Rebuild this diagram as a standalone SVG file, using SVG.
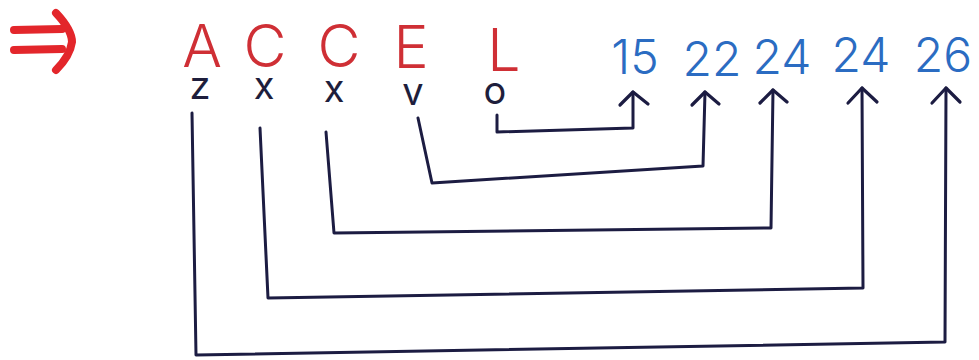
<svg xmlns="http://www.w3.org/2000/svg" width="979" height="360" viewBox="0 0 979 360">
  <style>
    .red { fill: #cf2f35; font-family: Inter, "Liberation Sans", sans-serif; font-weight: 300; font-size: 59px; text-anchor: middle; }
    .low { fill: #1e1e3c; font-family: Inter, "Liberation Sans", sans-serif; font-weight: 400; font-size: 38px; text-anchor: middle; }
    .num { fill: #2b6cc2; font-family: Inter, "Liberation Sans", sans-serif; font-weight: 300; font-size: 48px; text-anchor: middle; }
    .wire { fill: none; stroke: #1c1c42; stroke-width: 3; stroke-linejoin: round; stroke-linecap: round; }
    .head { fill: none; stroke: #1c1c42; stroke-width: 3.2; stroke-linejoin: round; stroke-linecap: round; }
    .imp { fill: none; stroke: #e3262b; stroke-width: 8; stroke-linecap: round; stroke-linejoin: round; }
  </style>
  <rect width="979" height="360" fill="#ffffff"/>
  <g id="implies">
    <path class="imp" d="M14 30 L62 29 M14 50 L62 49"/>
    <path class="imp" d="M56 13 Q72 30 72 42 Q70 56 56 70"/>
  </g>
  <g id="word">
    <text class="red" x="202" y="67">A</text>
    <text class="red" x="265" y="67">C</text>
    <text class="red" x="339" y="67">C</text>
    <text class="red" x="411" y="68">E</text>
    <text class="red" x="504" y="71">L</text>
  </g>
  <g id="letters">
    <text class="low" x="200" y="99">z</text>
    <text class="low" x="264" y="99">x</text>
    <text class="low" x="334" y="102">x</text>
    <text class="low" x="413" y="105">v</text>
    <text class="low" x="495" y="104">o</text>
  </g>
  <g id="numbers">
    <text class="num" x="635" y="74">15</text>
    <text class="num" x="712" y="76">22</text>
    <text class="num" x="782" y="74">24</text>
    <text class="num" x="861" y="72">24</text>
    <text class="num" x="943" y="72">26</text>
  </g>
  <g id="connectors">
    <path class="wire" d="M497 115 L497 132 L633 128 L633 92"/>
    <path class="wire" d="M418 118 L432 183 L703 166 L705 92"/>
    <path class="wire" d="M326 132 L334 233 L771 228 L773 90"/>
    <path class="wire" d="M260 128 L268 298 L863 288 L862 88"/>
    <path class="wire" d="M192 113 L196 355 L945 342 L946 88"/>
    <path class="head" d="M620 105 L633 92 L648 104"/>
    <path class="head" d="M692 105 L705 92 L719 104"/>
    <path class="head" d="M760 103 L773 90 L787 102"/>
    <path class="head" d="M848 103 L862 88 L877 102"/>
    <path class="head" d="M932 103 L946 88 L960 102"/>
  </g>
</svg>
